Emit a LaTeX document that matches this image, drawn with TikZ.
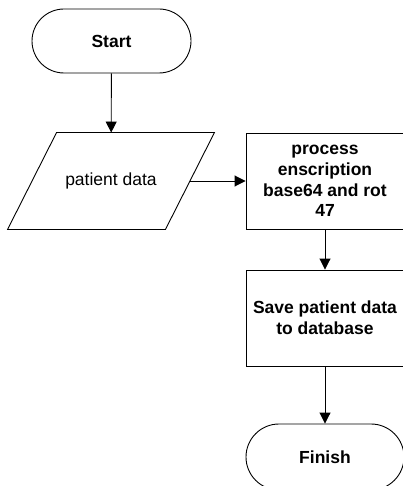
\documentclass[tikz,border=0pt]{standalone}
\usepackage{fontspec}
\setmainfont{Liberation Sans}
\usetikzlibrary{arrows.meta}
\begin{document}
\begin{tikzpicture}[x=1pt,y=-1pt,
  base/.style={draw=black,line width=0.9pt,inner sep=0pt,align=center,
    font=\fontsize{17.5}{20.7}\selectfont},
  term/.style={base,rectangle,font=\fontsize{17.5}{20.7}\selectfont\bfseries},
  procbox/.style={base,rectangle,minimum width=158pt,minimum height=96pt,
    font=\fontsize{17.5}{20.7}\selectfont\bfseries},
  iobox/.style={base,draw=none,rectangle,minimum width=157pt,minimum height=96pt},
  outline/.style={draw=black,line width=0.9pt},
  conn/.style={line width=0.9pt,-{Triangle[length=11pt,width=11pt]}}]
\useasboundingbox (0,0) rectangle (403,486);
\clip (0,0) rectangle (403,486);
\node[term,minimum width=159pt,minimum height=64pt,rounded corners=32pt] (start) at (111.5,41) {Start};
\node[iobox] (pd) at (111,181) {patient data};
\draw[outline] ([xshift=24.5pt]pd.north west) -- ([xshift=24.5pt]pd.north east)
  -- ([xshift=-24.5pt]pd.south east) -- ([xshift=-24.5pt]pd.south west) -- cycle;
\node[procbox] (proc) at (325,181) {process\\enscription\\base64 and rot\\47};
\node[procbox] (save) at (325,318) {Save patient data\\to database};
\node[term,minimum width=158pt,minimum height=66pt,rounded corners=33pt] (fin) at (325,457) {Finish};
\draw[conn] (start) -- (pd);
\draw[conn] (pd.east) -- (proc.west |- pd.east);
\draw[conn] (proc) -- (save);
\draw[conn] (save) -- (fin);
\end{tikzpicture}
\end{document}
